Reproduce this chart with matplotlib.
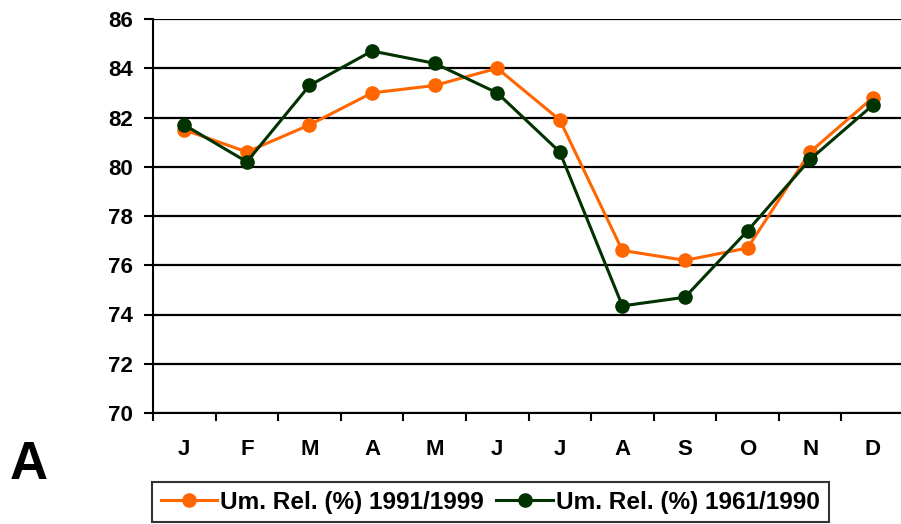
import matplotlib
matplotlib.use("Agg")
import matplotlib.pyplot as plt
import numpy as np

months = ["J", "F", "M", "A", "M", "J", "J", "A", "S", "O", "N", "D"]
um_1991_1999 = [81.5, 80.6, 81.7, 83.0, 83.3, 84.0, 81.9, 76.6, 76.2, 76.7, 80.6, 82.8]
um_1961_1990 = [81.7, 80.2, 83.3, 84.7, 84.2, 83.0, 80.6, 74.35, 74.7, 77.4, 80.3, 82.5]
yticks = [70, 72, 74, 76, 78, 80, 82, 84, 86]

plt.rcParams['font.family'] = ['Liberation Sans', 'DejaVu Sans']
plt.rcParams['font.weight'] = 'bold'

fig = plt.figure(figsize=(9.01, 5.24), dpi=100)
ax = fig.add_axes([153/901, 111/524, 751/901, 394/524])

x = np.arange(len(months)) + 0.5
ax.plot(x, um_1991_1999, '-o', color='#FF6600', lw=2.2, ms=9.5,
        label='Um. Rel. (%) 1991/1999', zorder=3)
ax.plot(x, um_1961_1990, '-o', color='#003300', lw=2.2, ms=9.5,
        label='Um. Rel. (%) 1961/1990', zorder=4)

ax.set_xlim(0, 12)
ax.set_ylim(70, 86)
ax.set_yticks(yticks)
ax.set_xticks(np.arange(13))
ax.set_xticklabels([])
ax.set_xticks(x, minor=True)
ax.set_xticklabels(months, minor=True, fontsize=16, fontweight='bold')
ax.tick_params(axis='x', which='minor', length=0, pad=19)
ax.tick_params(axis='x', which='major', length=6, width=1.5, direction='out')
ax.tick_params(axis='y', length=6.5, width=1.5, pad=8, labelsize=16)
for lbl in ax.get_yticklabels():
    lbl.set_fontweight('bold')

ax.yaxis.grid(True, color='black', lw=1.6)
ax.set_axisbelow(True)
for s in ['top', 'right']:
    ax.spines[s].set_visible(False)
for s in ['left', 'bottom']:
    ax.spines[s].set_linewidth(1.5)
    ax.spines[s].set_zorder(2)

fig.text(10/901, 1 - 479/524, 'A', fontsize=38, fontweight='bold', ha='left', va='baseline')

leg = fig.legend(loc='upper left', bbox_to_anchor=(152/901, 1 - 482/524), ncol=2,
                 frameon=True, fancybox=False, edgecolor='black', borderaxespad=0,
                 prop={'size': 17.6, 'weight': 'bold'}, handlelength=2.3,
                 handletextpad=0.15, columnspacing=0.5, borderpad=0.35)
leg.get_frame().set_linewidth(1.5)

fig.savefig('out.png', dpi=100)
